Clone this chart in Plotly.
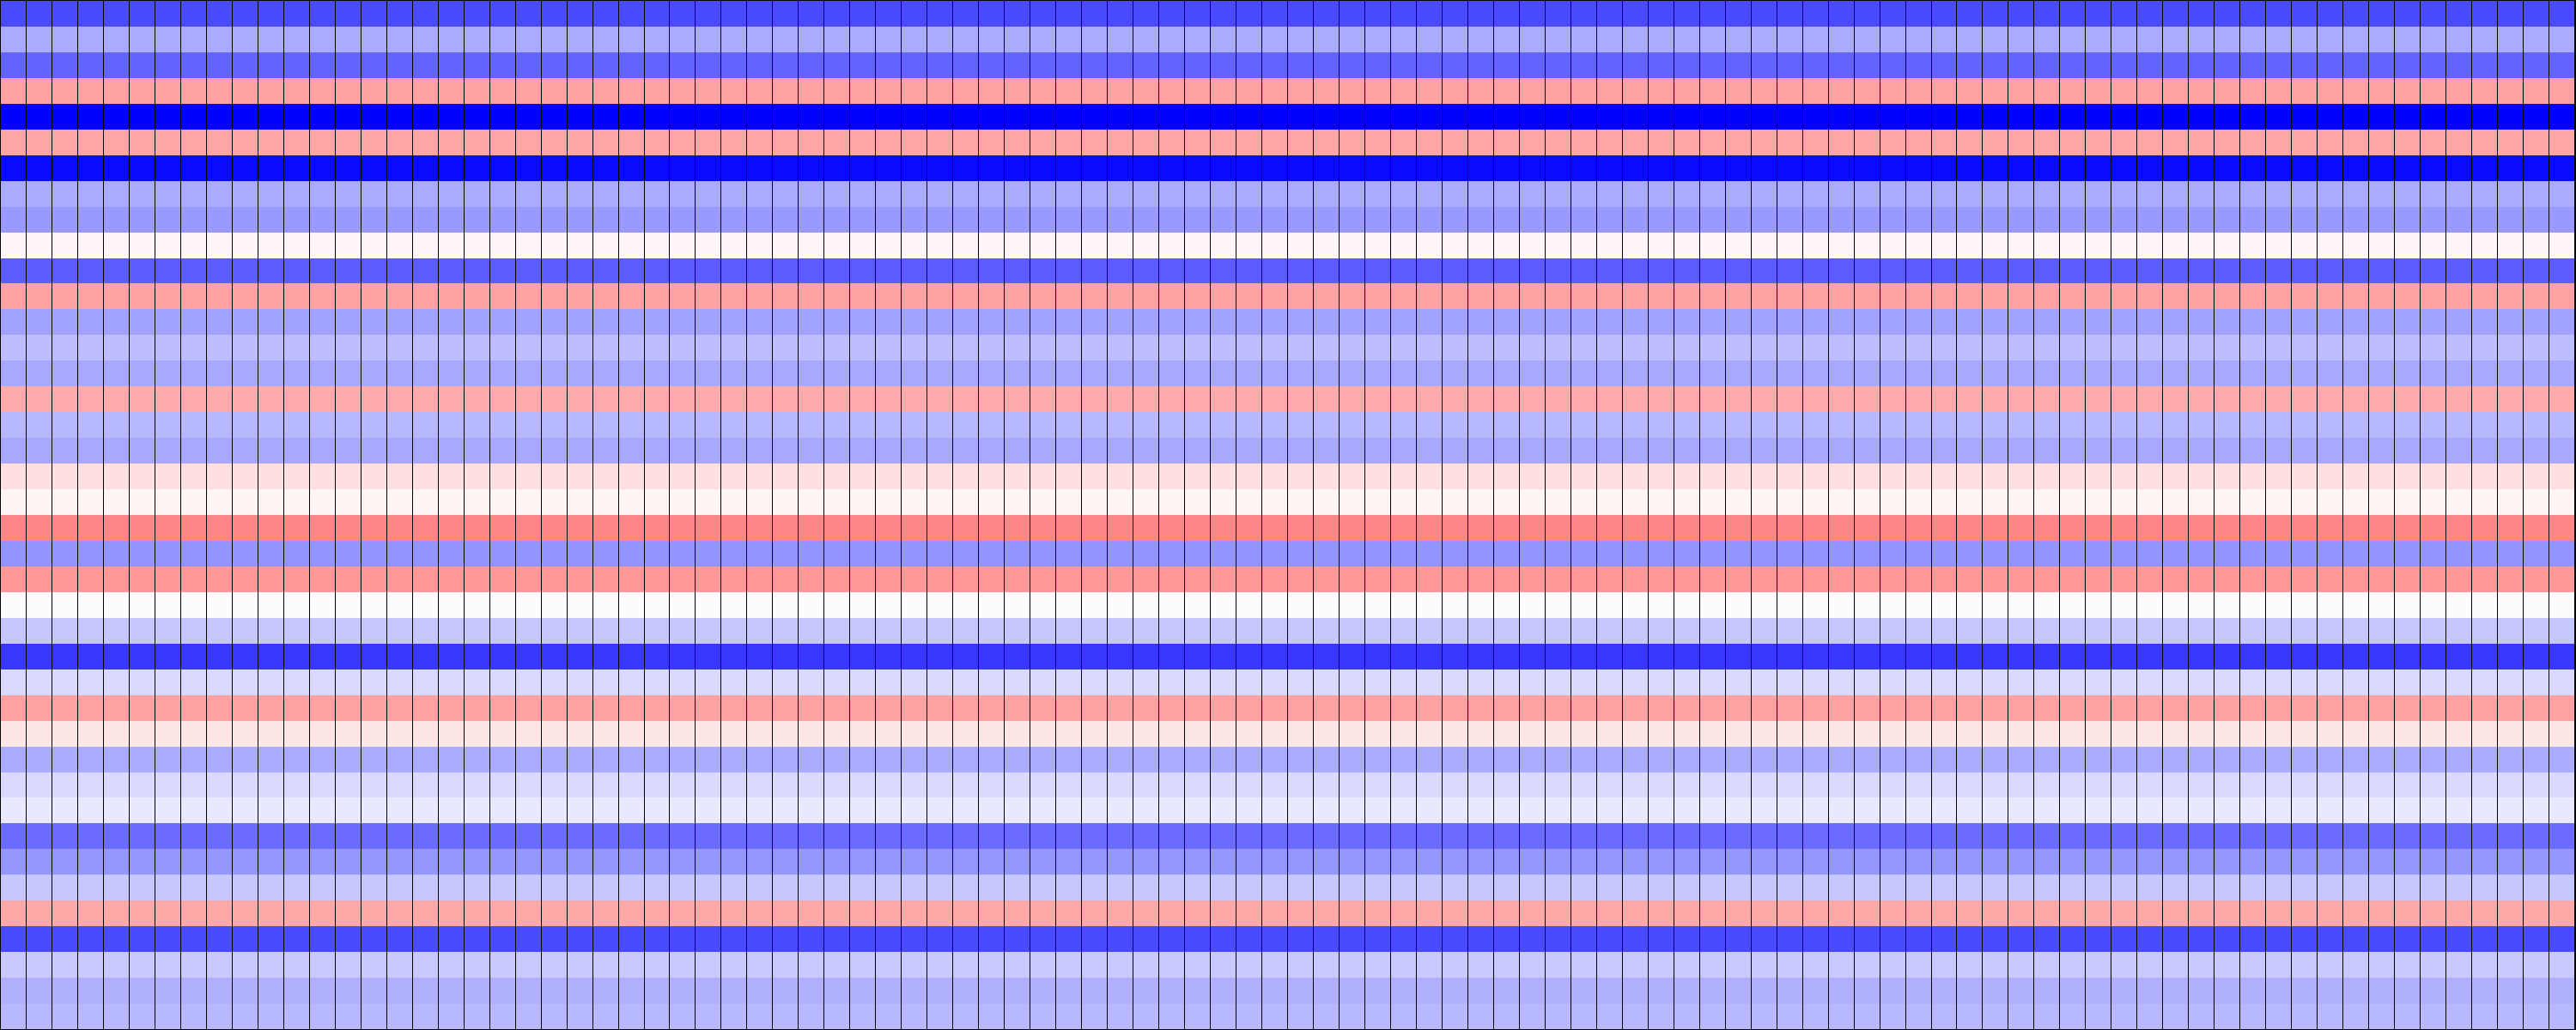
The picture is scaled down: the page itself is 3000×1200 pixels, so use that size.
import plotly.graph_objects as go

# Row values (top to bottom), normalized anomaly on a symmetric -1..1 scale
row_values = [
    -0.71, -0.33, -0.61, 0.37, -1.00, 0.35, -0.96, -0.33, -0.40, 0.03,
    -0.64, 0.37, -0.37, -0.26, -0.34, 0.33, -0.28, -0.34, 0.12, 0.04,
    0.47, -0.42, 0.40, -0.01, -0.22, -0.78, -0.15, 0.37, 0.10, -0.33,
    -0.15, -0.09, -0.58, -0.41, -0.22, 0.34, -0.71, -0.21, -0.31, -0.28,
]
row_labels = list(range(len(row_values)))
column_labels = list(range(100))

z = [[v for _ in column_labels] for v in row_values]

bwr = [[0.0, "rgb(0,0,255)"], [0.5, "rgb(255,255,255)"], [1.0, "rgb(255,0,0)"]]

fig = go.Figure(
    go.Heatmap(
        z=z,
        x=column_labels,
        y=row_labels,
        colorscale=bwr,
        zmin=-1,
        zmax=1,
        xgap=1,
        showscale=False,
        hoverinfo="skip",
    )
)

fig.update_layout(
    width=3000,
    height=1200,
    autosize=False,
    margin=dict(l=1, r=1, t=1, b=1, pad=0),
    paper_bgcolor="white",
    plot_bgcolor="black",
    showlegend=False,
)
fig.update_xaxes(
    visible=True, showticklabels=False, ticks="", showgrid=False, zeroline=False,
    showline=True, linecolor="black", linewidth=1, mirror=True,
)
fig.update_yaxes(
    autorange="reversed", showticklabels=False, ticks="", showgrid=False, zeroline=False,
    showline=True, linecolor="black", linewidth=1, mirror=True,
)

fig.write_html(
    "out.html",
    config={"displayModeBar": False},
    post_script="document.body.style.margin='0';",
)
